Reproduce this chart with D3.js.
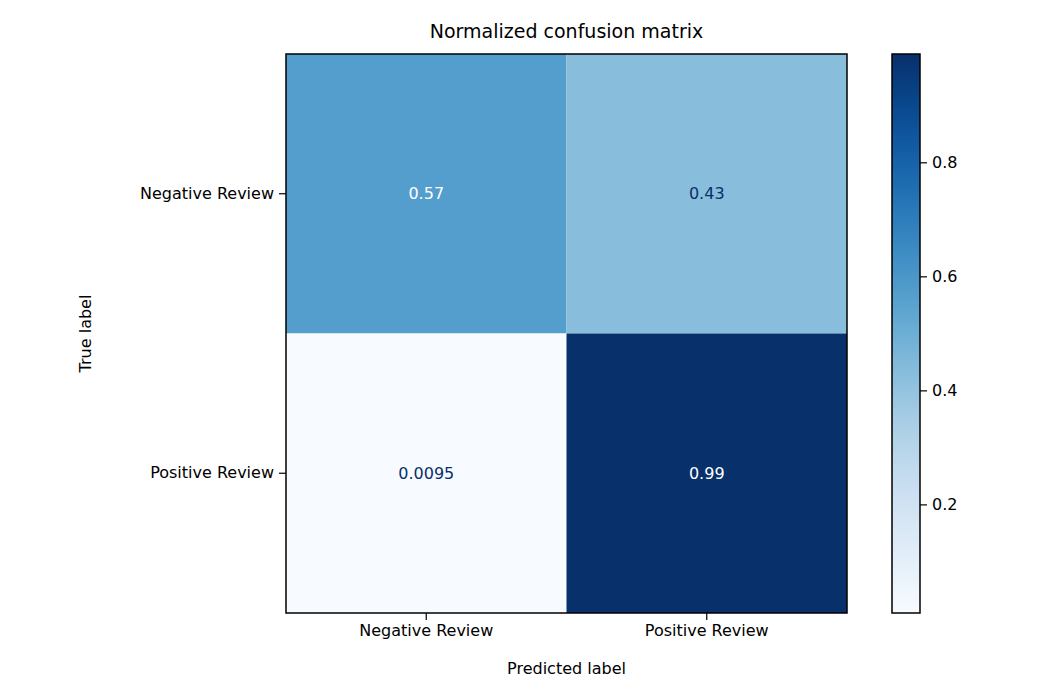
<!DOCTYPE html>
<html>
<head>
<meta charset="utf-8">
<script src="https://d3js.org/d3.v7.min.js"></script>
<style>
  body { margin: 0; background: #fff; font-family: "DejaVu Sans", sans-serif; }
  text { font-family: "DejaVu Sans", sans-serif; }
</style>
</head>
<body>
<div id="chart"></div>
<script>
const classes = ["Negative Review", "Positive Review"];
const matrix = [
  [0.57, 0.43],
  [0.0095, 0.99]
];
const cellLabels = [
  ["0.57", "0.43"],
  ["0.0095", "0.99"]
];
const cbarTicks = [0.2, 0.4, 0.6, 0.8];

const width = 1050, height = 700;
const m = { left: 286, top: 54, right: 847, bottom: 613 };

const svg = d3.select("#chart").append("svg")
  .attr("width", width).attr("height", height);

const vals = matrix.flat();
const vmin = d3.min(vals), vmax = d3.max(vals);
const color = d3.scaleSequential(d3.interpolateBlues).domain([vmin, vmax]);
const thresh = (vmin + vmax) / 2;

const x = d3.scaleBand().domain(classes).range([m.left, m.right]);
const y = d3.scaleBand().domain(classes).range([m.top, m.bottom]);

const cells = [];
matrix.forEach((row, i) => row.forEach((v, j) => cells.push({ i, j, v, label: cellLabels[i][j] })));

svg.append("g").selectAll("rect").data(cells).join("rect")
  .attr("x", d => x(classes[d.j])).attr("y", d => y(classes[d.i]))
  .attr("width", x.bandwidth()).attr("height", y.bandwidth())
  .attr("fill", d => color(d.v));

svg.append("g").selectAll("text").data(cells).join("text")
  .attr("x", d => x(classes[d.j]) + x.bandwidth() / 2)
  .attr("y", d => y(classes[d.i]) + y.bandwidth() / 2)
  .attr("text-anchor", "middle").attr("dominant-baseline", "central")
  .attr("font-size", 16)
  .attr("fill", d => d.v > thresh ? "#ffffff" : "#08306b")
  .text(d => d.label);

svg.append("rect").attr("x", m.left).attr("y", m.top)
  .attr("width", m.right - m.left).attr("height", m.bottom - m.top)
  .attr("fill", "none").attr("stroke", "#000").attr("stroke-width", 1.5);

const xAxis = svg.append("g").attr("transform", `translate(0,${m.bottom})`)
  .call(d3.axisBottom(x).tickSize(7).tickPadding(5));
const yAxis = svg.append("g").attr("transform", `translate(${m.left},0)`)
  .call(d3.axisLeft(y).tickSize(7).tickPadding(5));
[xAxis, yAxis].forEach(a => {
  a.select(".domain").remove();
  a.selectAll("text").attr("font-size", 16).attr("fill", "#000");
  a.selectAll("line").attr("stroke", "#000").attr("stroke-width", 1.2);
});

svg.append("text").attr("x", (m.left + m.right) / 2).attr("y", 38)
  .attr("text-anchor", "middle").attr("font-size", 19).text("Normalized confusion matrix");
svg.append("text").attr("x", (m.left + m.right) / 2).attr("y", 674)
  .attr("text-anchor", "middle").attr("font-size", 16).text("Predicted label");
svg.append("text").attr("transform", `translate(91,${(m.top + m.bottom) / 2}) rotate(-90)`)
  .attr("text-anchor", "middle").attr("font-size", 16).text("True label");

// colorbar
const cb = { x: 892, w: 28 };
const cy = d3.scaleLinear().domain([vmin, vmax]).range([m.bottom, m.top]);
const defs = svg.append("defs");
const grad = defs.append("linearGradient").attr("id", "cbg")
  .attr("x1", 0).attr("y1", 1).attr("x2", 0).attr("y2", 0);
d3.range(0, 1.0001, 0.05).forEach(t => grad.append("stop")
  .attr("offset", t).attr("stop-color", d3.interpolateBlues(t)));
svg.append("rect").attr("x", cb.x).attr("y", m.top).attr("width", cb.w)
  .attr("height", m.bottom - m.top).attr("fill", "url(#cbg)")
  .attr("stroke", "#000").attr("stroke-width", 1.5);
const cAxis = svg.append("g").attr("transform", `translate(${cb.x + cb.w},0)`)
  .call(d3.axisRight(cy).tickValues(cbarTicks).tickFormat(d3.format(".1f")).tickSize(7).tickPadding(5));
cAxis.select(".domain").remove();
cAxis.selectAll("text").attr("font-size", 16).attr("fill", "#000");
cAxis.selectAll("line").attr("stroke", "#000").attr("stroke-width", 1.2);
</script>
</body>
</html>
